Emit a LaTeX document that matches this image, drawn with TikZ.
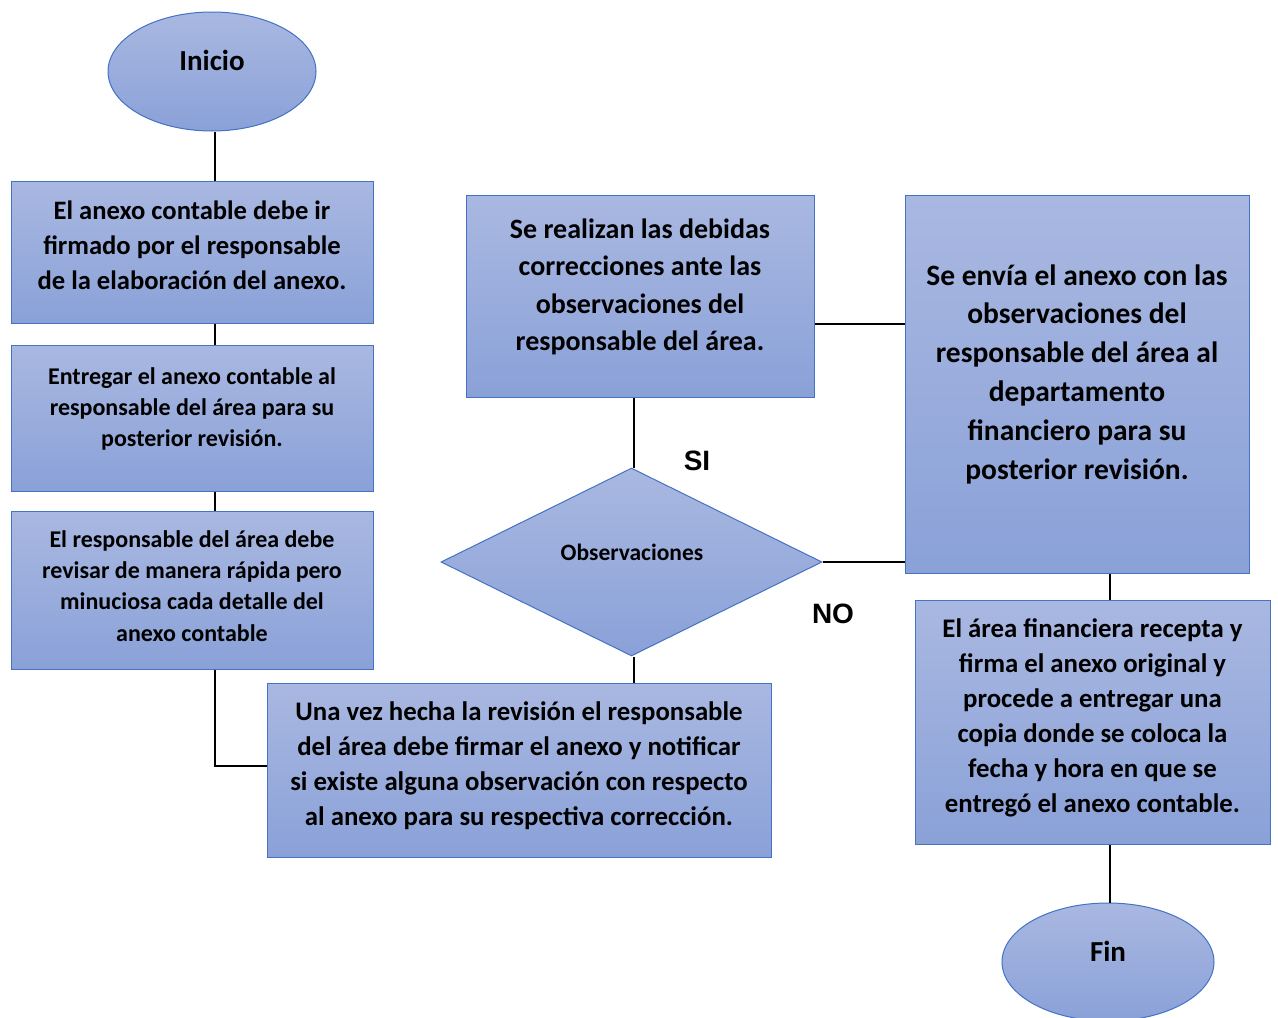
\documentclass[tikz,border=0pt]{standalone}
\usepackage{fontspec}
\setmainfont{Carlito}
\newfontfamily\arialfont{Liberation Sans}
\usetikzlibrary{shapes.geometric}
\definecolor{fillTop}{HTML}{A9B8E1}
\definecolor{fillBot}{HTML}{8AA1D8}
\definecolor{edge}{HTML}{4472C4}
\tikzset{
  shp/.style={draw=edge, line width=1pt, top color=fillTop, bottom color=fillBot, inner sep=0pt},
  boxshape/.style={shp, rectangle},
  ovalshape/.style={shp, ellipse},
  decshape/.style={shp, diamond, aspect=2.03},
  txt/.style={align=center, inner sep=0pt, font=\bfseries},
  conn/.style={draw=black, line width=1.6pt},
  lbl/.style={inner sep=0pt, font=\arialfont\bfseries\fontsize{28}{30}\selectfont},
}
\begin{document}
\begin{tikzpicture}[x=1pt,y=-1pt]
\useasboundingbox (0,0) rectangle (1278,1018);
% shapes
\node[ovalshape, minimum width=208, minimum height=119] (ini) at (212,71.5) {};
\node[txt, font=\bfseries\fontsize{29}{32}\selectfont] (iniT) at (212,60) {Inicio};

\node[boxshape, minimum width=362, minimum height=142] (b1) at (192,252) {};
\node[txt, font=\bfseries\fontsize{26.6}{35}\selectfont] (b1T) at (192,245) {El anexo contable debe ir\\firmado por el responsable\\de la elaboración del anexo.};

\node[boxshape, minimum width=362, minimum height=146] (b2) at (192,418) {};
\node[txt, font=\bfseries\fontsize{24}{31}\selectfont] (b2T) at (192,409) {Entregar el anexo contable al\\responsable del área para su\\posterior revisión.};

\node[boxshape, minimum width=362, minimum height=158] (b3) at (192,590) {};
\node[txt, font=\bfseries\fontsize{24}{31.3}\selectfont] (b3T) at (192,586) {El responsable del área debe\\revisar de manera rápida pero\\minuciosa cada detalle del\\anexo contable};

\node[boxshape, minimum width=504, minimum height=174] (b4) at (519,770) {};
\node[txt, font=\bfseries\fontsize{26.8}{35}\selectfont] (b4T) at (519,765.5) {Una vez hecha la revisión el responsable\\del área debe firmar el anexo y notificar\\si existe alguna observación con respecto\\al anexo para su respectiva corrección.};

\node[decshape, minimum width=381, minimum height=188] (dec) at (631.5,562) {};
\node[txt, font=\bfseries\fontsize{23.5}{26}\selectfont] (decT) at (632,552) {Observaciones};

\node[boxshape, minimum width=348, minimum height=202] (b5) at (640,296) {};
\node[txt, font=\bfseries\fontsize{28}{37.3}\selectfont] (b5T) at (640,287) {Se realizan las debidas\\correcciones ante las\\observaciones del\\responsable del área.};

\node[boxshape, minimum width=344, minimum height=378] (b6) at (1077,384) {};
\node[txt, font=\bfseries\fontsize{29.5}{38.8}\selectfont] (b6T) at (1077,374) {Se envía el anexo con las\\observaciones del\\responsable del área al\\departamento\\financiero para su\\posterior revisión.};

\node[boxshape, minimum width=355, minimum height=244] (b7) at (1092.5,722) {};
\node[txt, font=\bfseries\fontsize{26.8}{35}\selectfont] (b7T) at (1092.5,717.5) {El área financiera recepta y\\firma el anexo original y\\procede a entregar una\\copia donde se coloca la\\fecha y hora en que se\\entregó el anexo contable.};

\node[ovalshape, minimum width=212, minimum height=118] (fin) at (1108,962) {};
\node[txt, font=\bfseries\fontsize{29}{32}\selectfont] (finT) at (1108,951) {Fin};

\node[lbl] (si) at (697,461) {SI};
\node[lbl] (no) at (833,614) {NO};

% connectors
\coordinate (c1) at (215,766);
\draw[conn] (ini.south -| 215,0) -- (b1.north -| 215,0);
\draw[conn] (b1.south -| 215,0) -- (b2.north -| 215,0);
\draw[conn] (b2.south -| 215,0) -- (b3.north -| 215,0);
\draw[conn] (b3.south -| c1) -- (c1) -- (b4.west |- c1);
\draw[conn] (b4.north -| 634,0) -- (dec.south -| 634,0);
\draw[conn] (dec.north -| 634,0) -- (b5.south -| 634,0);
\draw[conn] (b5.east |- 0,324) -- (b6.west |- 0,324);
\draw[conn] (dec.east) -- (b6.west |- dec.east);
\draw[conn] (b6.south -| 1110,0) -- (b7.north -| 1110,0);
\draw[conn] (b7.south -| 1110,0) -- (fin.north -| 1110,0);
\end{tikzpicture}
\end{document}
